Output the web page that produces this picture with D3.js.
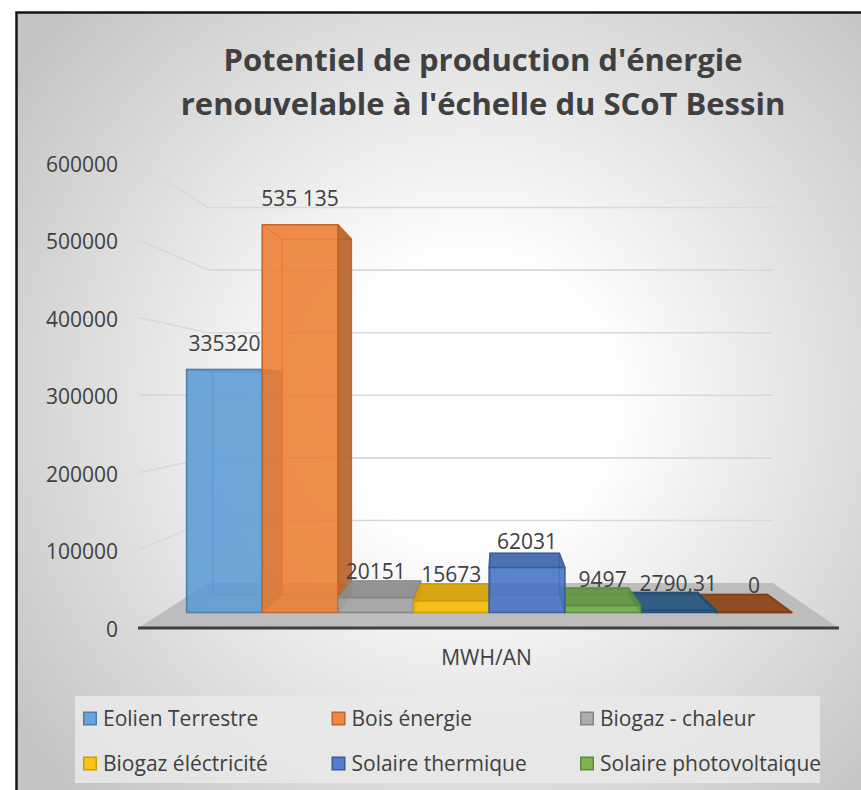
<!DOCTYPE html>
<html>
<head>
<meta charset="utf-8">
<script src="https://cdn.jsdelivr.net/npm/d3@7"></script>
<style>
  body { margin: 0; background: #fff; }
  text { font-family: "Open Sans", sans-serif; fill: #404040; }
</style>
</head>
<body>
<div id="chart"></div>
<script>
var width = 861, height = 790;

// data
var titleLines = ["Potentiel de production d'énergie", "renouvelable à l'échelle du SCoT Bessin"];
var series = ["Eolien Terrestre", "Bois énergie", "Biogaz - chaleur",
              "Biogaz éléctricité", "Solaire thermique", "Solaire photovoltaique"];
var values = [335320, 535135, 20151, 15673, 62031, 9497, 2790.31, 0];
var valueLabels = ["335320", "535 135", "20151", "15673", "62031", "9497", "2790,31", "0"];
var colors = ["#5B9BD5", "#ED7D31", "#A5A5A5", "#FFC000", "#4472C4", "#70AD47", "#255E91", "#9E480E"];
var yTicks = [0, 100000, 200000, 300000, 400000, 500000, 600000];
var category = "MWH/AN";

// front plane scales (z = 0), perspective toward a vanishing point
var x = d3.scaleBand()
    .domain(d3.range(values.length))
    .range([139, 838])
    .paddingInner(0)
    .paddingOuter(0.32);

var y = d3.scaleLinear()
    .domain([0, 600000])
    .range([627.5, 162.7]);

var depth = d3.scaleLinear().domain([0, 1]).range([1, 0.808]);
var vp = {x: 499, y: 396};
var barZ = [0.339, 0.745];

function proj(xf, yf, z) {
  var s = depth(z);
  return [vp.x + (xf - vp.x) * s, vp.y + (yf - vp.y) * s];
}

var svg = d3.select("#chart").append("svg")
    .attr("width", width)
    .attr("height", height);

var defs = svg.append("defs");
var grad = defs.append("radialGradient")
    .attr("id", "bg")
    .attr("gradientUnits", "userSpaceOnUse")
    .attr("cx", 470).attr("cy", 400).attr("r", 560);
grad.append("stop").attr("offset", 0).attr("stop-color", "#ffffff");
grad.append("stop").attr("offset", 0.25).attr("stop-color", "#ffffff");
grad.append("stop").attr("offset", 1).attr("stop-color", "#c4c4c4");

svg.append("rect")
    .attr("x", 16.5).attr("y", 12.5)
    .attr("width", 900).attr("height", 820)
    .attr("fill", "url(#bg)")
    .attr("stroke", "#141414")
    .attr("stroke-width", 2.5);

// title
svg.append("g").selectAll("text")
    .data(titleLines)
  .enter().append("text")
    .attr("x", 483)
    .attr("y", function(d, i) { return 71 + i * 44; })
    .attr("text-anchor", "middle")
    .style("font-size", "31px")
    .style("font-weight", "bold")
    .text(function(d) { return d; });

// gridlines: side wall + back wall
var line = d3.line();
var grid = svg.append("g")
    .attr("fill", "none")
    .attr("stroke", "#d9d9d9")
    .attr("stroke-width", 1.6);

grid.selectAll(".side")
    .data(yTicks.slice(1))
  .enter().append("path")
    .attr("d", function(d) { return line([proj(139, y(d), 0), proj(139, y(d), 1)]); });

grid.selectAll(".back")
    .data(yTicks.slice(1))
  .enter().append("path")
    .attr("d", function(d) { return line([proj(139, y(d), 1), proj(838, y(d), 1)]); });

// floor
svg.append("path")
    .attr("d", line([proj(139, y(0), 0), proj(838, y(0), 0), proj(838, y(0), 1), proj(139, y(0), 1)]) + "Z")
    .attr("fill", "#bdbdbd");

svg.append("path")
    .attr("d", line([proj(138, y(0) + 0.5, 0), proj(839, y(0) + 0.5, 0)]))
    .attr("stroke", "#3f3f3f")
    .attr("stroke-width", 3.2);

// y axis labels
var yAxis = d3.axisLeft(y)
    .tickValues(yTicks)
    .tickFormat(d3.format("d"))
    .tickSize(0)
    .tickPadding(9);

svg.append("g")
    .attr("transform", "translate(127,2)")
    .call(yAxis)
    .call(function(g) { g.select(".domain").remove(); })
    .selectAll("text")
    .style("font-size", "21px")
    .style("font-family", "'Open Sans', sans-serif")
    .attr("fill", "#404040");

// bars (3D boxes), far from the vanishing point first
var order = d3.range(values.length).sort(function(a, b) {
  var da = Math.abs(x(a) + x.bandwidth() / 2 - vp.x);
  var db = Math.abs(x(b) + x.bandwidth() / 2 - vp.x);
  return db - da;
});

var bars = svg.append("g");

order.forEach(function(i) {
  var x0 = x(i), x1 = x(i) + x.bandwidth();
  var yb = y(0), yt = y(values[i]);
  var z1 = barZ[0], z2 = barZ[1];
  var base = d3.color(colors[i]);
  var edge = base.darker(0.6).formatHex();
  var g = bars.append("g");

  var faces = {
    back:   [[x0, yb, z2], [x1, yb, z2], [x1, yt, z2], [x0, yt, z2]],
    bottom: [[x0, yb, z1], [x1, yb, z1], [x1, yb, z2], [x0, yb, z2]],
    left:   [[x0, yb, z1], [x0, yb, z2], [x0, yt, z2], [x0, yt, z1]],
    right:  [[x1, yb, z1], [x1, yb, z2], [x1, yt, z2], [x1, yt, z1]],
    top:    [[x0, yt, z1], [x1, yt, z1], [x1, yt, z2], [x0, yt, z2]],
    front:  [[x0, yb, z1], [x1, yb, z1], [x1, yt, z1], [x0, yt, z1]]
  };
  var showLeft = x0 > vp.x, showRight = x1 < vp.x, showTop = yt > vp.y;

  function face(pts, fill, op, sop) {
    g.append("path")
      .attr("d", line(pts.map(function(p) { return proj(p[0], p[1], p[2]); })) + "Z")
      .attr("fill", fill)
      .attr("fill-opacity", op)
      .attr("stroke", edge)
      .attr("stroke-opacity", sop)
      .attr("stroke-width", 1.5)
      .attr("stroke-linejoin", "round");
  }

  // hidden faces, seen through the transparent fill
  face(faces.back, base.formatHex(), 0.15, 0.45);
  if (!showLeft) face(faces.left, base.formatHex(), 0.15, 0.45);
  if (!showRight) face(faces.right, base.formatHex(), 0.15, 0.45);
  if (!showTop) face(faces.top, base.formatHex(), 0.15, 0.45);

  // visible faces
  if (showLeft) face(faces.left, base.darker(0.75).formatHex(), 0.88, 0.9);
  if (showRight) face(faces.right, base.darker(0.75).formatHex(), 0.88, 0.9);
  if (showTop) face(faces.top, base.darker(0.45).formatHex(), 0.88, 0.9);
  face(faces.front, base.formatHex(), 0.85, 0.95);
});

// data labels
svg.append("g").selectAll("text")
    .data(values)
  .enter().append("text")
    .attr("x", function(d, i) { return proj(x(i) + x.bandwidth() / 2, y(d), barZ[0])[0]; })
    .attr("y", function(d, i) { return proj(x(i), y(d), barZ[0])[1] - 19; })
    .attr("text-anchor", "middle")
    .style("font-size", "21px")
    .text(function(d, i) { return valueLabels[i]; });

// category label
svg.append("text")
    .attr("x", 486.5)
    .attr("y", 665)
    .attr("text-anchor", "middle")
    .style("font-size", "21px")
    .text(category);

// legend
svg.append("rect")
    .attr("x", 75).attr("y", 696)
    .attr("width", 745).attr("height", 87)
    .attr("fill", "#e9e9e9")
    .attr("fill-opacity", 0.85);

var legend = svg.append("g").selectAll("g")
    .data(series)
  .enter().append("g")
    .attr("transform", function(d, i) {
      return "translate(" + (83 + (i % 3) * 248.5) + "," + (718.5 + Math.floor(i / 3) * 45) + ")";
    });

legend.append("rect")
    .attr("x", 0.75).attr("y", -6.25)
    .attr("width", 12.5).attr("height", 12.5)
    .attr("fill", function(d, i) { return colors[i]; })
    .attr("fill-opacity", 0.9)
    .attr("stroke", function(d, i) { return d3.color(colors[i]).darker(0.6).formatHex(); })
    .attr("stroke-width", 1.5);

legend.append("text")
    .attr("x", 20)
    .attr("y", 0)
    .attr("dy", "0.35em")
    .style("font-size", "21px")
    .text(function(d) { return d; });
</script>
</body>
</html>
